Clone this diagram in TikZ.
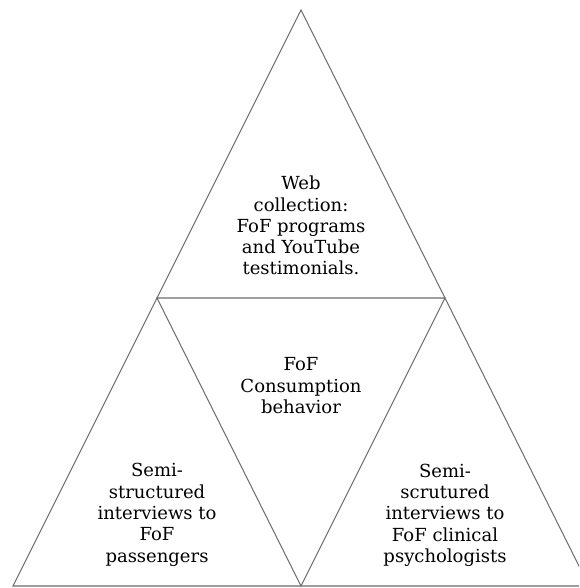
\documentclass[tikz,border=0pt]{standalone}
\usepackage{fontspec}
\setmainfont{DejaVu Serif}
\begin{document}
\begin{tikzpicture}[x=1pt,y=-1pt,
  edge/.style={draw=black!58,line width=1.1pt,line join=miter},
  lbl/.style={align=center,font=\fontsize{18}{21.3}\selectfont,inner sep=0pt,text=black}]
\useasboundingbox (0,0) rectangle (579,588);
\clip (0,0) rectangle (579,588);
\coordinate (A) at (301,10);
\coordinate (L) at (157,298);
\coordinate (R) at (445,298);
\coordinate (BL) at (13,586);
\coordinate (BM) at (301,586);
\coordinate (BR) at (589,586);
\draw[edge] (A) -- (BL) -- (BR) -- cycle;
\draw[edge] (L) -- (R) -- (BM) -- cycle;
\node[lbl] (web) at (301,225.6) {Web\\collection:\\FoF programs\\and YouTube\\testimonials.};
\node[lbl] (fof) at (301,385.6) {FoF\\Consumption\\behavior};
\node[lbl] (pass) at (157,514.8) {Semi-\\structured\\interviews to\\FoF\\passengers};
\node[lbl] (psy) at (445,515.3) {Semi-\\scrutured\\interviews to\\FoF clinical\\psychologists};
\end{tikzpicture}
\end{document}
